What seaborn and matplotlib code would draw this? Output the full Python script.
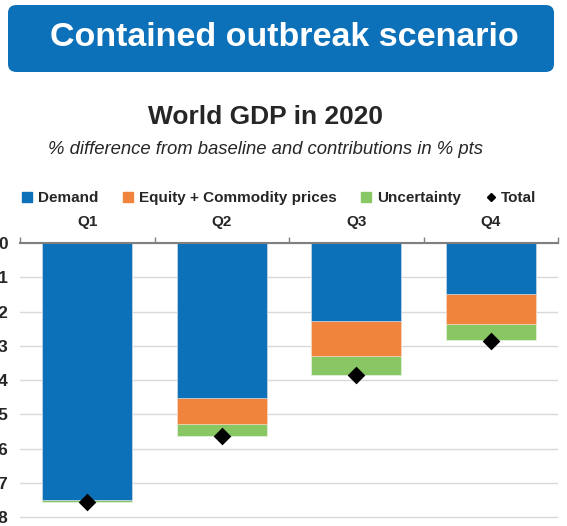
import numpy as np
import matplotlib
matplotlib.use("Agg")
import matplotlib.pyplot as plt
import seaborn as sns
from matplotlib.patches import FancyBboxPatch
from matplotlib.lines import Line2D

# data
quarters = ["Q1", "Q2", "Q3", "Q4"]
demand = [-7.50, -4.52, -2.28, -1.50]
equity_commodity = [0.00, -0.75, -1.01, -0.87]
uncertainty = [-0.05, -0.36, -0.55, -0.47]
total = [-7.56, -5.63, -3.85, -2.86]
yticks = [0, -1, -2, -3, -4, -5, -6, -7, -8]

blue = "#0D71BA"
orange = "#F0843C"
green = "#88C764"

sns.set_style("white")
plt.rcParams["font.family"] = ["Liberation Sans", "DejaVu Sans"]

fig = plt.figure(figsize=(5.67, 5.26), dpi=100)

# banner
banner = FancyBboxPatch((8 / 567, 1 - 72 / 526), 546 / 567, 67 / 526,
                        boxstyle="round,pad=0,rounding_size=0.015",
                        transform=fig.transFigure, facecolor=blue,
                        edgecolor="none")
fig.patches.append(banner)
fig.text(284 / 567, 1 - 38 / 526, "Contained outbreak scenario", color="white",
         fontsize=24.5, fontweight="bold", ha="center", va="center")

fig.text(265 / 567, 1 - 117 / 526, "World GDP in 2020", fontsize=19,
         fontweight="bold", ha="center", va="center")
fig.text(266 / 567, 1 - 150 / 526,
         "% difference from baseline and contributions in % pts",
         fontsize=13.3, style="italic", ha="center", va="center")

ax = fig.add_axes([20 / 567, 0, 538 / 567, 283 / 526])

# stacked bars (all negative: draw cumulative from the bottom up)
lvl1 = np.array(demand)
lvl2 = lvl1 + np.array(equity_commodity)
lvl3 = lvl2 + np.array(uncertainty)
sns.barplot(x=quarters, y=lvl3, color=green, width=0.67, saturation=1,
            edgecolor="#E8F3E0", linewidth=0.5, ax=ax, zorder=2)
sns.barplot(x=quarters, y=lvl2, color=orange, width=0.67, saturation=1,
            edgecolor="#FBE0CE", linewidth=0.5, ax=ax, zorder=3)
sns.barplot(x=quarters, y=lvl1, color=blue, width=0.67, saturation=1,
            edgecolor="#CFE2F1", linewidth=0.5, ax=ax, zorder=4)
sns.stripplot(x=quarters, y=total, color="black", marker="D", size=9,
              jitter=False, ax=ax, zorder=6)

ax.set_ylim(-8.26, 0)
ax.set_xlim(-0.5, 3.5)
ax.set_yticks(yticks)
ax.set_yticklabels([str(v).replace("-", "\u2212") for v in yticks],
                   fontsize=12.5, fontweight="bold")
ax.tick_params(axis="y", length=0, pad=8.5)
ax.yaxis.grid(True, color="#D9D9D9", linewidth=1)
ax.set_axisbelow(True)

ax.xaxis.tick_top()
ax.set_xticks(range(len(quarters)))
ax.set_xticklabels(quarters, fontsize=11, fontweight="bold")
ax.tick_params(axis="x", which="major", length=0, pad=10)
ax.set_xticks([-0.5, 0.5, 1.5, 2.5, 3.5], minor=True)
ax.tick_params(axis="x", which="minor", length=4, width=1, color="#7F7F7F",
               direction="out")
ax.set_xlabel("")
ax.set_ylabel("")

for s in ["left", "right", "bottom"]:
    ax.spines[s].set_visible(False)
ax.spines["top"].set_color("#7F7F7F")
ax.spines["top"].set_linewidth(1.5)
ax.spines["top"].set_zorder(7)

handles = [
    Line2D([], [], marker="s", linestyle="none", color=blue, markersize=6.5),
    Line2D([], [], marker="s", linestyle="none", color=orange, markersize=6.5),
    Line2D([], [], marker="s", linestyle="none", color=green, markersize=6.5),
    Line2D([], [], marker="D", linestyle="none", color="black", markersize=4.5),
]
labels = ["Demand", "Equity + Commodity prices", "Uncertainty", "Total"]
fig.legend(handles, labels, loc="center left", ncol=4, frameon=False,
           bbox_to_anchor=(14 / 567, 1 - 198 / 526), borderpad=0,
           handlelength=0.7, handletextpad=0.35, columnspacing=1.6,
           prop={"weight": "bold", "size": 11})

fig.savefig("out.png", dpi=100)
